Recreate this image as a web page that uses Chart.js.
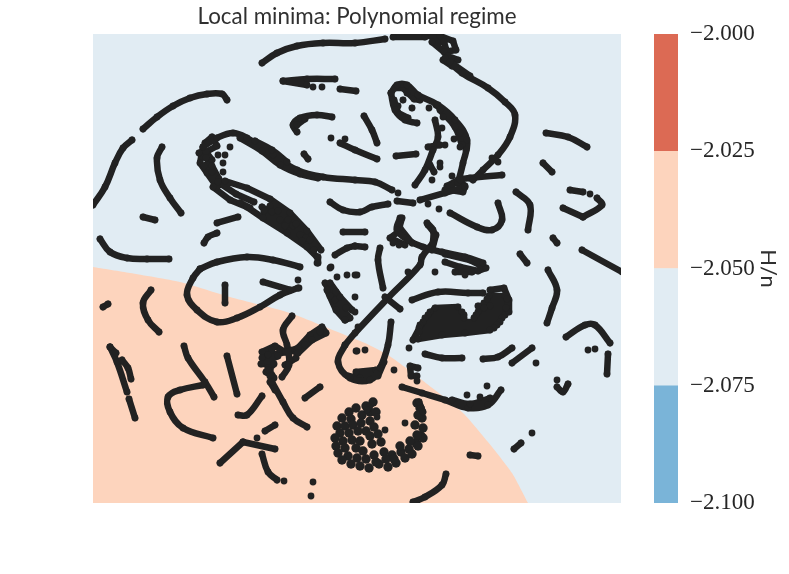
<!DOCTYPE html>
<html><head><meta charset="utf-8">
<style>html,body{margin:0;padding:0;background:#fff}
#wrap{position:relative;width:789px;height:574px}
canvas{position:absolute;top:0}</style>
<script src="https://cdn.jsdelivr.net/npm/chart.js@4"></script></head>
<body><div id="wrap"><div style="position:absolute;left:0;top:0;width:789px;height:574px"><canvas id="main"></canvas></div>
<div style="position:absolute;left:640px;top:0;width:149px;height:574px"><canvas id="bar"></canvas></div></div>
<script>
const titleText="Local minima: Polynomial regime";
const barLevels=[-2.1,-2.075,-2.05,-2.025,-2.0];
const barColors=["#7ab4d8","#e1ecf3","#fdd4bd","#dc6a54"];
const barTicks=["−2.100","−2.075","−2.050","−2.025","−2.000"];
const upperRegion=[[93,34],[621,34]];
const lowerBoundary=[[93,267],[130,273],[180,282],[230,297],[290,313],[350,337],[365,343],[388,355],[422,380],[462,412],[488,442],[512,473],[528,503]];

const n=null;
const upperLeft=[[93,205],[105,187],[115,163],[123,148],[132,140],n,
[143,129],[157,117],[173,106],[190,98],[207,94],[222,94],[227,100],n,
[162,147],[157,158],[160,180],[170,198],[181,213],n,
[143,217],[155,220],n,[217,223],[238,217],n,[204,243],[208,237],[217,233],n,
[100,239],[110,252],[127,258],[147,259],[169,259]];
const topBand=[[262,63],[277,53],[297,46],[323,43],[355,43],[385,39],n,[393,37],[425,37],n,[445,58],[462,73],[488,88],[505,102],[515,115],[510,137],[498,155],[483,170],[473,180],n,
[450,62],[470,76],n,[283,81],[307,79],[335,79],n,[283,81],[307,85],n,[313,87],n,[322,87],n,[340,89],[356,91],n,
[297,132],[293,125],[300,118],[317,115],[332,117],n,[297,125],[305,119],n,
[331,138],n,[345,139],n,[340,143],[355,150],[377,159],n,[304,154],[308,159],n,
[364,116],[372,130],[377,143],n,[396,156],[416,154]];
const leftLoop=[[392,190],[375,182],[355,180],[323,177],[297,170],[273,155],[247,138],[233,133],[217,138],[203,147],n,
[240,138],[262,151],[280,165],[300,174],[318,178],n,[255,141],[272,150],[287,162],n,
[230,147],n,[225,155],n,[223,163],n,[223,172],n,[218,155],n,[398,193],n,
[397,201],[413,203],n,[420,200],[445,193],[465,187],n,
[330,202],[343,210],[360,212],[372,207],[388,204],n,
[343,232],[365,232],n,[355,246],[365,247],n,[335,255],[347,248],[355,246],n,[331,267],n,[317,263],n,[318,257],[318,263]];
const lowerLoop=[[200,269],[217,262],[247,257],[273,260],[300,267],n,[200,269],[193,278],[187,295],[197,310],[217,322],[237,318],[260,307],[280,295],[298,288],n,
[263,282],[290,290],n,[298,280],n,[299,288],n,[225,285],[225,303],n,
[103,307],[108,304],n,[151,290],[143,303],[148,320],[159,332],n,
[110,347],[117,362],[127,392],n,[110,347],[116,353],n,[122,360],[128,368],[131,379],n,[129,399],[135,418],n,
[184,346],[188,358],[205,382],[214,397],n,[203,385],[180,390],[168,397],[170,412],[183,428],[213,438],n,
[227,356],[237,394],n,[262,396],[247,415],[238,415],n,
[292,316],[283,330],[287,345],[289,365],[282,377],n,
[272,382],[283,402],[293,418],[307,427],n,[320,387],[305,398],n,[275,425],[265,431],n,
[220,463],[243,442],n,[243,442],[275,449],n,[257,438],n,[262,454],[268,472],[277,480],n,[284,481],n,[313,482],n,[311,496]];
const upperRightLoop=[[391,93],[397,85],[407,85],[418,95],[438,105],[455,120],[467,140],[463,163],[458,183],n,
[391,93],[395,110],[405,120],[417,123],n,[440,110],[455,127],[462,145],n,
[435,120],[438,137],[433,150],[425,170],[415,185],n,[445,190],[460,180],[470,178],[502,175],n,
[429,108],n,[443,117],n,[442,128],n,[454,139],n,[445,145],n,[440,163],n,[440,167],n,[432,180],n,[452,176],n,[460,133],n,[460,147],n,[498,162],n,[492,158],n,[428,147],[440,145],n,[430,165],[434,172],n,
[546,133],[568,137],[587,147],n,[543,163],[552,172],n,[570,190],[583,192],n,[590,194],n,
[563,208],[583,217],n,[583,217],[602,205],[597,198],n,[516,192],[530,205],[528,230],n,
[498,203],[502,220],[492,230],[477,227],[450,213],n,[439,209],n,[428,204],n,
[553,238],[557,243],n,[582,250],[622,272],n,[520,254],[527,263]];
const centerCross=[[400,218],[397,230],[408,240],[423,247],[442,252],[465,257],[483,263],n,
[427,223],[433,230],[433,243],n,[393,243],n,[399,245],n,[380,248],[378,260],[383,288],n,[408,272],n,[435,272],n,
[433,243],[422,257],[420,265],[388,298],[355,333],[345,345],n,[345,345],[338,362],[350,378],[370,380],[380,368],[388,345],[391,322],n,
[385,297],[400,309],n,[356,351],n,[365,350],n,[357,351],n,[465,275],n,[337,277],n,[347,275],n,[357,275],n,[330,268],n,[355,275],n,[355,297],n,[355,312],n,[358,327]];
const rightCurves=[[412,300],[438,292],[468,293],[483,293],n,
[409,348],n,[425,354],[442,358],[462,358],n,[483,359],[498,357],[512,348],n,[512,363],[532,348],n,[536,363],n,
[402,387],[422,393],[445,400],[468,408],[488,405],[501,390],n,[452,400],[470,404],[490,398],n,[480,397],n,[467,395],n,[487,386],n,
[419,402],[421,408],n,
[548,270],[557,290],[552,308],[547,323],n,[566,337],[585,325],[595,325],[610,343],n,[588,350],n,[595,349],n,[608,354],[607,374],n,
[557,380],n,[557,387],[563,392],[568,384],n,[394,370],n,[417,381],n,
[405,423],n,[385,430],n,[377,417],n,[470,455],[478,456],n,[446,474],[442,485],[425,497],[413,502],n,[532,433],n,[514,449],[521,443],n,[373,402],[367,410],n,[419,402],[423,412]];

const topBlob=[[415,36],[440,36],[453,41],[456,50],[444,52],[432,42],[444,42],[448,56],[458,60],n,[443,60],[452,66]];
const leftBlob=[[203,147],[200,163],[207,173],[217,187],n,[205,143],[212,137],[217,146],[206,152],[212,160],[204,166],[212,172],[219,179],[212,166],n,[199,153],[206,158],n,
[213,187],[230,200],[247,207],[263,218],[287,233],[307,247],[317,257],n,
[218,182],[236,194],[254,202],n,[225,181],[247,188],[270,199],[290,213],[307,231],[321,250],n,
[262,207],[280,220],[300,235],[314,250],n,[270,206],[288,220],[306,238],n,[272,212],[293,226],n,[240,203],[250,208],n,[264,211],[285,226],[302,241],n,[278,211],[296,224],[310,240]];
const leftKnot=[[262,352],[275,346],[285,352],[262,358],[278,356],[261,364],[274,364],[266,372],[274,378],[268,368],n,[272,350],[270,376],n,
[286,352],[298,348],[310,335],[322,327],[326,333],[312,340],[298,353],[290,350],n,[305,345],[320,332],n,[270,382],[275,390],n,[268,355],[268,370]];
const knotDots=[[285,365],[296,358]];
const centerBlobs=[[325,283],[335,300],[350,318],[345,320],[330,296],n,[330,283],[340,297],[352,310],n,[327,290],[336,310],[345,320],n,[336,292],[346,308],n,
[402,218],[398,232],[390,238],[405,245],n,[400,228],[412,243],n,[428,225],[436,235],[432,250],n,
[445,254],[470,260],[486,268],[478,271],[460,267],[445,262],n,[455,272],[472,272],n,
[348,376],[360,378],[378,376],[384,362],n,[356,372],[376,370]];
const lensFill=[[413,340],[421,325],[435,308],[458,307],n,[430,312],[462,312],n,[478,312],[506,312],n,[428,315],[464,315],n,[476,315],[505,315],n,[425,318],[464,318],n,[474,318],[502,318],n,[423,322],[500,322],n,[420,325],[497,325],n,[419,328],[494,328],n,[419,332],[490,330],[465,333],[442,335],[418,339],n,
[490,290],[504,288],[509,300],[509,312],n,[484,303],[508,303],n,[489,296],[505,296],n,[478,306],[490,306],n,[487,299],[507,299],n,[484,308],[506,308]];
const loopBlobs=[[395,88],[403,88],[414,99],[420,100],n,[394,100],[398,113],[408,118],n,[403,100],n,[398,106],n,[412,108],n,[407,93],n,
[447,186],[458,180],[465,186],[463,192],[450,190],n,[436,105],[446,113],n,[462,130],[466,150],n,[418,368],[410,366],[411,376],[417,376]];
const roundFill=[[349,412],[356,408],[366,406],[373,402],[370,412],[362,415],[351,419],[342,418],[337,426],[345,426],[353,425],[361,423],[370,421],[376,412],[374,427],[366,431],[358,431],[349,433],[340,433],[335,438],[343,441],[352,440],[360,441],[370,436],[378,434],[336,446],[345,448],[356,448],[363,451],[372,444],[381,442],[338,453],[348,456],[357,458],[366,459],[374,455],[384,452],[392,455],[401,452],[409,449],[416,443],[421,436],[423,428],[422,418],[420,408],[417,403],n,
[342,460],[351,464],[360,466],[369,468],[379,464],[388,467],[396,463],[405,458],[412,454],[418,446],[423,438],n,[376,462],[386,459],[394,459],[400,446],[410,441],[417,435],[415,425],[418,415]];

const smoothGroups=[upperLeft,topBand,leftLoop,lowerLoop,upperRightLoop,centerCross,rightCurves];
const denseGroups=[topBlob,leftBlob,leftKnot,knotDots,centerBlobs,lensFill,loopBlobs];
const toPts=a=>a.map(p=>p?{x:p[0],y:p[1]}:{x:null,y:null});
const ink="#222222";
const inkSet=(g,t)=>({data:toPts(g),showLine:true,spanGaps:false,tension:t,borderColor:ink,backgroundColor:ink,borderWidth:6.5,borderCapStyle:"round",borderJoinStyle:"round",pointRadius:3.4,pointBorderWidth:0,clip:0,order:1});
new Chart(document.getElementById("main"),{type:"scatter",
 data:{datasets:[
  ...smoothGroups.map(g=>inkSet(g,0.4)),
  ...denseGroups.map(g=>inkSet(g,0)),
  {...inkSet(roundFill,0),showLine:false,pointRadius:4.7},
  {data:toPts(lowerBoundary),showLine:true,fill:"start",backgroundColor:barColors[2],borderWidth:0,pointRadius:0,tension:0.2,clip:0,order:2},
  {data:toPts(upperRegion),showLine:true,fill:"start",backgroundColor:barColors[1],borderWidth:0,pointRadius:0,clip:0,order:3}
 ]},
 options:{responsive:true,maintainAspectRatio:false,animation:false,events:[],
  layout:{padding:{left:93,right:168,bottom:71,top:0}},
  plugins:{legend:{display:false},tooltip:{enabled:false},
   title:{display:true,text:titleText,fullSize:false,color:"#303030",font:{family:"Lato",size:22.4,weight:"normal",lineHeight:1.2},padding:{top:3.5,bottom:3.6}}},
  scales:{x:{type:"linear",display:false,min:93,max:621},y:{type:"linear",display:false,min:34,max:503,reverse:true}}}});

const barSets=barColors.map((c,i)=>({data:[[barLevels[i],barLevels[i+1]]],backgroundColor:c,borderWidth:0,barPercentage:1,categoryPercentage:1,grouped:false}));
new Chart(document.getElementById("bar"),{type:"bar",
 data:{labels:["H/n"],datasets:barSets},
 options:{responsive:true,maintainAspectRatio:false,animation:false,events:[],
  layout:{padding:{left:14,top:34,bottom:71,right:0}},
  plugins:{legend:{display:false},tooltip:{enabled:false}},
  scales:{x:{display:false},
   y:{position:"right",min:-2.1,max:-2.0,
    afterBuildTicks:s=>{s.ticks=barLevels.map(v=>({value:v}));},
    afterFit:s=>{s.width=111;},
    grid:{display:false,drawTicks:false},border:{display:false},
    ticks:{padding:12,color:"#262626",font:{family:"Liberation Serif",size:23},autoSkip:false,maxRotation:0,callback:(v,i)=>barTicks[i]},
    title:{display:true,text:"H/n",color:"#303030",font:{family:"Lato",size:22},padding:{top:8,bottom:0}}}}}});
</script></body></html>
